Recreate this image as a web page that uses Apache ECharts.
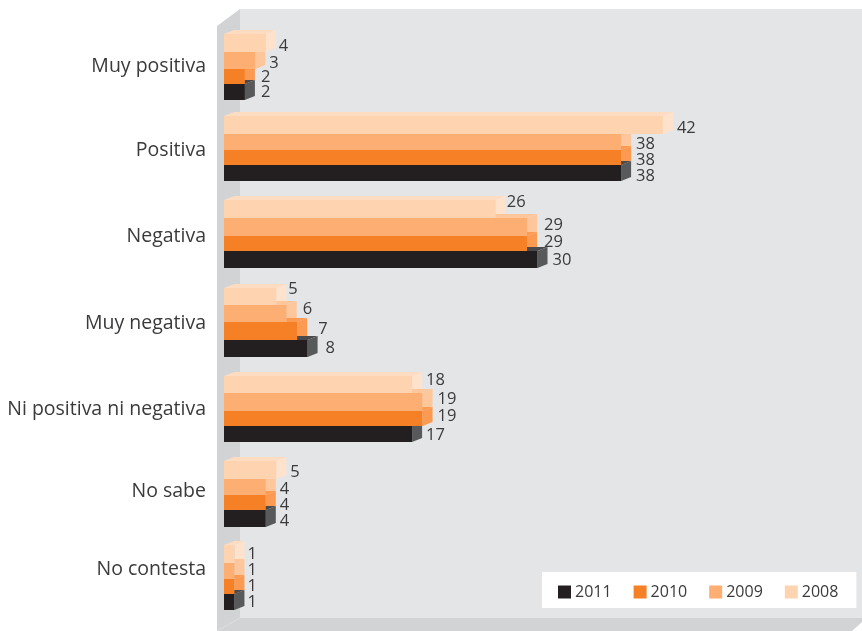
<!DOCTYPE html>
<html><head><meta charset="utf-8">
<style>html,body{margin:0;padding:0;background:#fff}#c{width:862px;height:631px}</style>
<script src="https://cdn.jsdelivr.net/npm/echarts@6/dist/echarts.min.js"></script>
</head><body><div id="c"></div>
<script>
// ---- data ----
const categories = ['Muy positiva','Positiva','Negativa','Muy negativa','Ni positiva ni negativa','No sabe','No contesta'];
const years = ['2008','2009','2010','2011'];
const legendOrder = ['2011','2010','2009','2008'];
const values2008 = [4,42,26,5,18,5,1];
const values2009 = [3,38,29,6,19,4,1];
const values2010 = [2,38,29,7,19,4,1];
const values2011 = [2,38,30,8,17,4,1];

// ---- styling / layout ----
const FONT = '"Open Sans", sans-serif';
const TEXT = '#3a3a3c';
const AXIS_FS = 19.5;
const seriesValues = [values2008, values2009, values2010, values2011];
const front = ['#fdd3b0','#fdae72','#f58025','#231f20'];
const side  = ['#fee2cc','#fec69b','#fb9a50','#58595b'];
const topC  = ['#fddcc2','#fec69b','#fb9a50','#4a4a4c'];
const DX = 10, DY = 4;
// hand-measured band edges of each row, relative to the category centre
const bandEdges = [
  [-34,-16,1,16,32],[-36,-18,-2,13,29],[-36,-18,0,15,32],[-32,-15,2,20,37],
  [-28,-11,7,22,38],[-27,-9,7,22,39],[-27,-9,7,22,38]];
// value-label offsets (per row, per year)
const labelDy = [
  [-22,-5,9,24],[-24,-8,8,24],[-34,-11,6,24],[-31,-11,9,28],
  [-24,-5,12,31],[-16,1,17,33],[-18,-2,14,30]];
const labelDx = [
  [13,14,16,16],[14,15,15,15],[11,17,17,15],[12,16,21,18],
  [14,15,15,14],[14,14,14,14],[13,13,13,13]];
// in the reference the 2011 "17" bar is drawn as long as the 18 one
const barEndNudge = {'3:4':10.45};
const axisLabelShift = [-2,-2,0,3,5,3,-3];

const rich = {};
axisLabelShift.forEach((s,i)=>{
  rich['r'+i] = {fontFamily:FONT,fontSize:AXIS_FS,color:TEXT,
    padding: s<0 ? [0,0,-2*s,0] : [2*s,0,0,0]};
});

function renderBar(sIdx){
  return function(params, api){
    const v = api.value(0), row = api.value(1);
    const c = api.coord([v,row]);
    const o = api.coord([0,row]);
    const x0 = o[0];
    const x1 = c[0] + (barEndNudge[sIdx+':'+row]||0);
    const e = bandEdges[row];
    const y0 = c[1]+e[sIdx], y1 = c[1]+e[sIdx+1];
    const poly = (pts,fill)=>({type:'polygon',z2:sIdx,shape:{points:pts},style:{fill:fill,stroke:null}});
    return {type:'group',children:[
      poly([[x0,y0],[x0+DX,y0-DY],[x1+DX,y0-DY],[x1,y0]],topC[sIdx]),
      poly([[x1,y0],[x1+DX,y0-DY],[x1+DX,y1-DY],[x1,y1]],side[sIdx]),
      {type:'rect',z2:10+sIdx,shape:{x:x0,y:y0,width:x1-x0,height:y1-y0},style:{fill:front[sIdx]}},
      {type:'text',z2:20,style:{text:String(v),x:x1+labelDx[row][sIdx],y:c[1]+labelDy[row][sIdx],
        fill:TEXT,font:'16.5px '+FONT,align:'left',verticalAlign:'middle'}}
    ]};
  };
}

const chart = echarts.init(document.getElementById('c'),null,{renderer:'canvas'});
chart.setOption({
  animation:false,
  backgroundColor:'#fff',
  grid:{left:224,top:26,width:627,height:588,containLabel:false},
  xAxis:{type:'value',min:0,max:60,show:false},
  yAxis:{type:'category',inverse:true,data:categories,
    axisLine:{show:false},axisTick:{show:false},splitLine:{show:false},
    axisLabel:{margin:18,formatter:(v,i)=>`{r${i}|${v}}`,rich:rich}},
  legend:{data:legendOrder,left:542,top:572,width:300,
    backgroundColor:'#fff',padding:[12,18,8,16],itemWidth:13,itemHeight:13,itemGap:22,
    icon:'rect',textStyle:{fontFamily:FONT,fontSize:16,color:TEXT,padding:[0,0,0,-1]},selectedMode:false},
  graphic:[
    {type:'rect',z:-5,shape:{x:240,y:9,width:622,height:609},style:{fill:'#e4e5e7'}},
    {type:'polygon',z:-5,shape:{points:[[217,26],[240,9],[240,618],[217,631]]},style:{fill:'#d1d3d4'}},
    {type:'polygon',z:-5,shape:{points:[[217,631],[240,618],[862,618],[862,622],[852,631]]},style:{fill:'#d1d3d4'}},
    {type:'line',z:-4,shape:{x1:217,y1:631,x2:240,y2:618},style:{stroke:'#dcdddf',lineWidth:1}}
  ],
  series:years.map((y,s)=>({
    name:y,type:'custom',clip:false,
    itemStyle:{color:front[s]},
    encode:{x:0,y:1},
    renderItem:renderBar(s),
    data:seriesValues[s].map((v,i)=>[v,i])
  }))
});
</script></body></html>
